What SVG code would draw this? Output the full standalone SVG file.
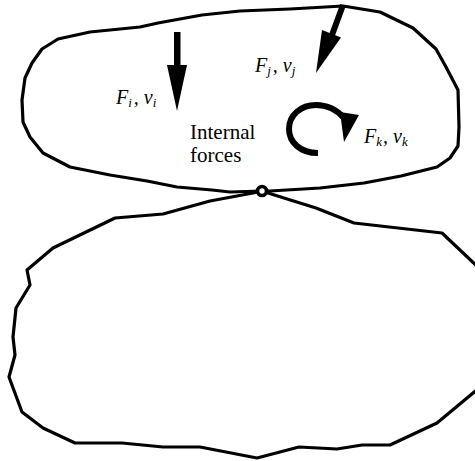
<svg xmlns="http://www.w3.org/2000/svg" width="475" height="461" viewBox="0 0 475 461">
<style>
.body{fill:none;stroke:#000;stroke-width:3.2;stroke-linejoin:round}
.arw{fill:#000;stroke:none}
.lab{font-family:"Liberation Serif",serif;font-style:italic;font-size:20px;fill:#000}
.sub{font-size:13px}
.txt{font-family:"Liberation Serif",serif;font-size:21px;fill:#000}
</style>
<g id="upper-body">
<path class="body" d="M262 191 L230 192 L212 190 L177 187 L147 181 L110 175 L70 167 L43 153 L30 137 L23 122 L22 100 L25 78 L32 63 L42 49 L58 39 L90 32 L140 27 L158 23 L202 15 L240 11 L290 9 L343 6 L380 12 L413 28 L436 49 L446 67 L458 90 L459 127 L458 146 L450 158 L437 167 L401 176 L364 183 L320 188 L270 191 Z"/>
</g>
<g id="lower-body">
<path class="body" d="M262 191 L253 193 L210 201 L163 214 L115 218 L53 248 L27 270 L30 285 L16 308 L13 337 L15 355 L9 377 L22 412 L43 428 L75 443 L122 443 L163 447 L200 447 L257 458 L299 447 L337 449 L362 445 L390 445 L437 423 L479 388 L483 330 L479 268 L442 233 L354 223 L316 208 L268 193 Z"/>
</g>
<g id="joint">
<circle cx="262" cy="191" r="4.5" fill="#fff" stroke="#000" stroke-width="3.6"/>
</g>
<g id="force-i">
<rect class="arw" x="174" y="32" width="6.5" height="35"/>
<polygon class="arw" points="167,65 187,65 177,111"/>
<text class="lab" x="116" y="104">F<tspan class="sub" dy="3">i</tspan><tspan dy="-3" dx="2">, v</tspan><tspan class="sub" dy="3">i</tspan></text>
</g>
<g id="force-j">
<line x1="343" y1="5" x2="332" y2="35" stroke="#000" stroke-width="6"/>
<polygon class="arw" points="322,30 341,37.5 316,73"/>
<text class="lab" x="255" y="72">F<tspan class="sub" dy="3">j</tspan><tspan dy="-3" dx="2">, v</tspan><tspan class="sub" dy="3">j</tspan></text>
</g>
<g id="force-k">
<path d="M318 153 C300 153 289 142 289 129 C289 115 301 105 316 105 C328 105 337 110 344 118" fill="none" stroke="#000" stroke-width="6"/>
<polygon class="arw" points="340,112 359,115 344,142"/>
<text class="lab" x="364" y="143">F<tspan class="sub" dy="3">k</tspan><tspan dy="-3" dx="1">, v</tspan><tspan class="sub" dy="3">k</tspan></text>
</g>
<g id="label-internal">
<text class="txt" x="190" y="139">Internal</text>
<text class="txt" x="190" y="162">forces</text>
</g>
</svg>
